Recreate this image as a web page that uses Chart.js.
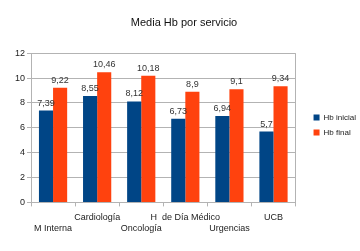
<!doctype html>
<html>
<head>
  <meta charset="utf-8">
  <script src="https://cdn.jsdelivr.net/npm/chart.js@4"></script>
  <style>
    body { margin: 0; background: #fff; }
    .chart { width: 360px; height: 251px; }
  </style>
</head>
<body>
  <div class="chart"><canvas id="myChart"></canvas></div>
  <script>
    var servicios = ['M Interna', 'Cardiología', 'Oncología', 'H  de Día Médico', 'Urgencias', 'UCB'];
    var hbInicial = [7.39, 8.55, 8.12, 6.73, 6.94, 5.7];
    var hbFinal = [9.22, 10.46, 10.18, 8.9, 9.1, 9.34];
    var yTicks = [0, 2, 4, 6, 8, 10, 12];

    // staggered labels: even ones on the lower line
    var labels = servicios.map(function(s, i) {
      return i % 2 === 0 ? ['', s] : [s, ''];
    });

    var fontFamily = '"Liberation Sans", Arial, sans-serif';
    var gridColor = '#b3b3b3';

    var valueLabels = {
      id: 'valueLabels',
      afterDatasetsDraw: function(chart) {
        var ctx = chart.ctx;
        ctx.save();
        ctx.font = '9px ' + fontFamily;
        ctx.fillStyle = '#333';
        ctx.textAlign = 'center';
        ctx.textBaseline = 'bottom';
        chart.data.datasets.forEach(function(ds, di) {
          chart.getDatasetMeta(di).data.forEach(function(bar, i) {
            ctx.fillText(String(ds.data[i]).replace('.', ','), bar.x, bar.y - 3);
          });
        });
        ctx.restore();
      }
    };

    // push the legend a bit further away from the plot
    var legendShift = {
      id: 'legendShift',
      afterLayout: function(chart) {
        var lg = chart.legend;
        if (lg) {
          lg.left += 11;
          lg.right += 11;
          lg.top += 5;
          lg.bottom += 5;
        }
      }
    };

    var config = {
      type: 'bar',
      data: {
        labels: labels,
        datasets: [{
          label: 'Hb inicial',
          data: hbInicial,
          backgroundColor: '#004586'
        }, {
          label: 'Hb final',
          data: hbFinal,
          backgroundColor: '#ff420e'
        }]
      },
      options: {
        responsive: true,
        maintainAspectRatio: false,
        animation: false,
        layout: { padding: { left: 13, right: 5, bottom: 11 } },
        datasets: {
          bar: { categoryPercentage: 0.64, barPercentage: 1 }
        },
        scales: {
          x: {
            grid: {
              offset: true,
              color: function(c) { return (c.index === 0 || c.type === 'scale') ? gridColor : 'transparent'; },
              tickColor: gridColor,
              tickLength: 4
            },
            border: { color: gridColor },
            ticks: {
              maxRotation: 0,
              autoSkip: false,
              color: '#222',
              padding: 6,
              font: { family: fontFamily, size: 9 }
            }
          },
          y: {
            min: 0,
            max: 12,
            afterBuildTicks: function(axis) {
              axis.ticks = yTicks.map(function(v) { return { value: v }; });
            },
            grid: { color: gridColor, tickColor: gridColor, tickLength: 4 },
            border: { color: gridColor },
            ticks: {
              color: '#222',
              padding: 2,
              font: { family: fontFamily, size: 9 }
            }
          }
        },
        plugins: {
          title: {
            display: true,
            text: 'Media Hb por servicio',
            color: '#111',
            font: { family: fontFamily, size: 11, weight: 'normal' },
            padding: { top: 16, bottom: 24 }
          },
          legend: {
            position: 'right',
            labels: {
              boxWidth: 6,
              boxHeight: 6,
              padding: 7,
              color: '#222',
              font: { family: fontFamily, size: 8 }
            }
          },
          tooltip: { enabled: false }
        }
      },
      plugins: [valueLabels, legendShift]
    };

    window.onload = function() {
      var ctx = document.getElementById('myChart').getContext('2d');
      window.myChart = new Chart(ctx, config);
    };
  </script>
</body>
</html>
